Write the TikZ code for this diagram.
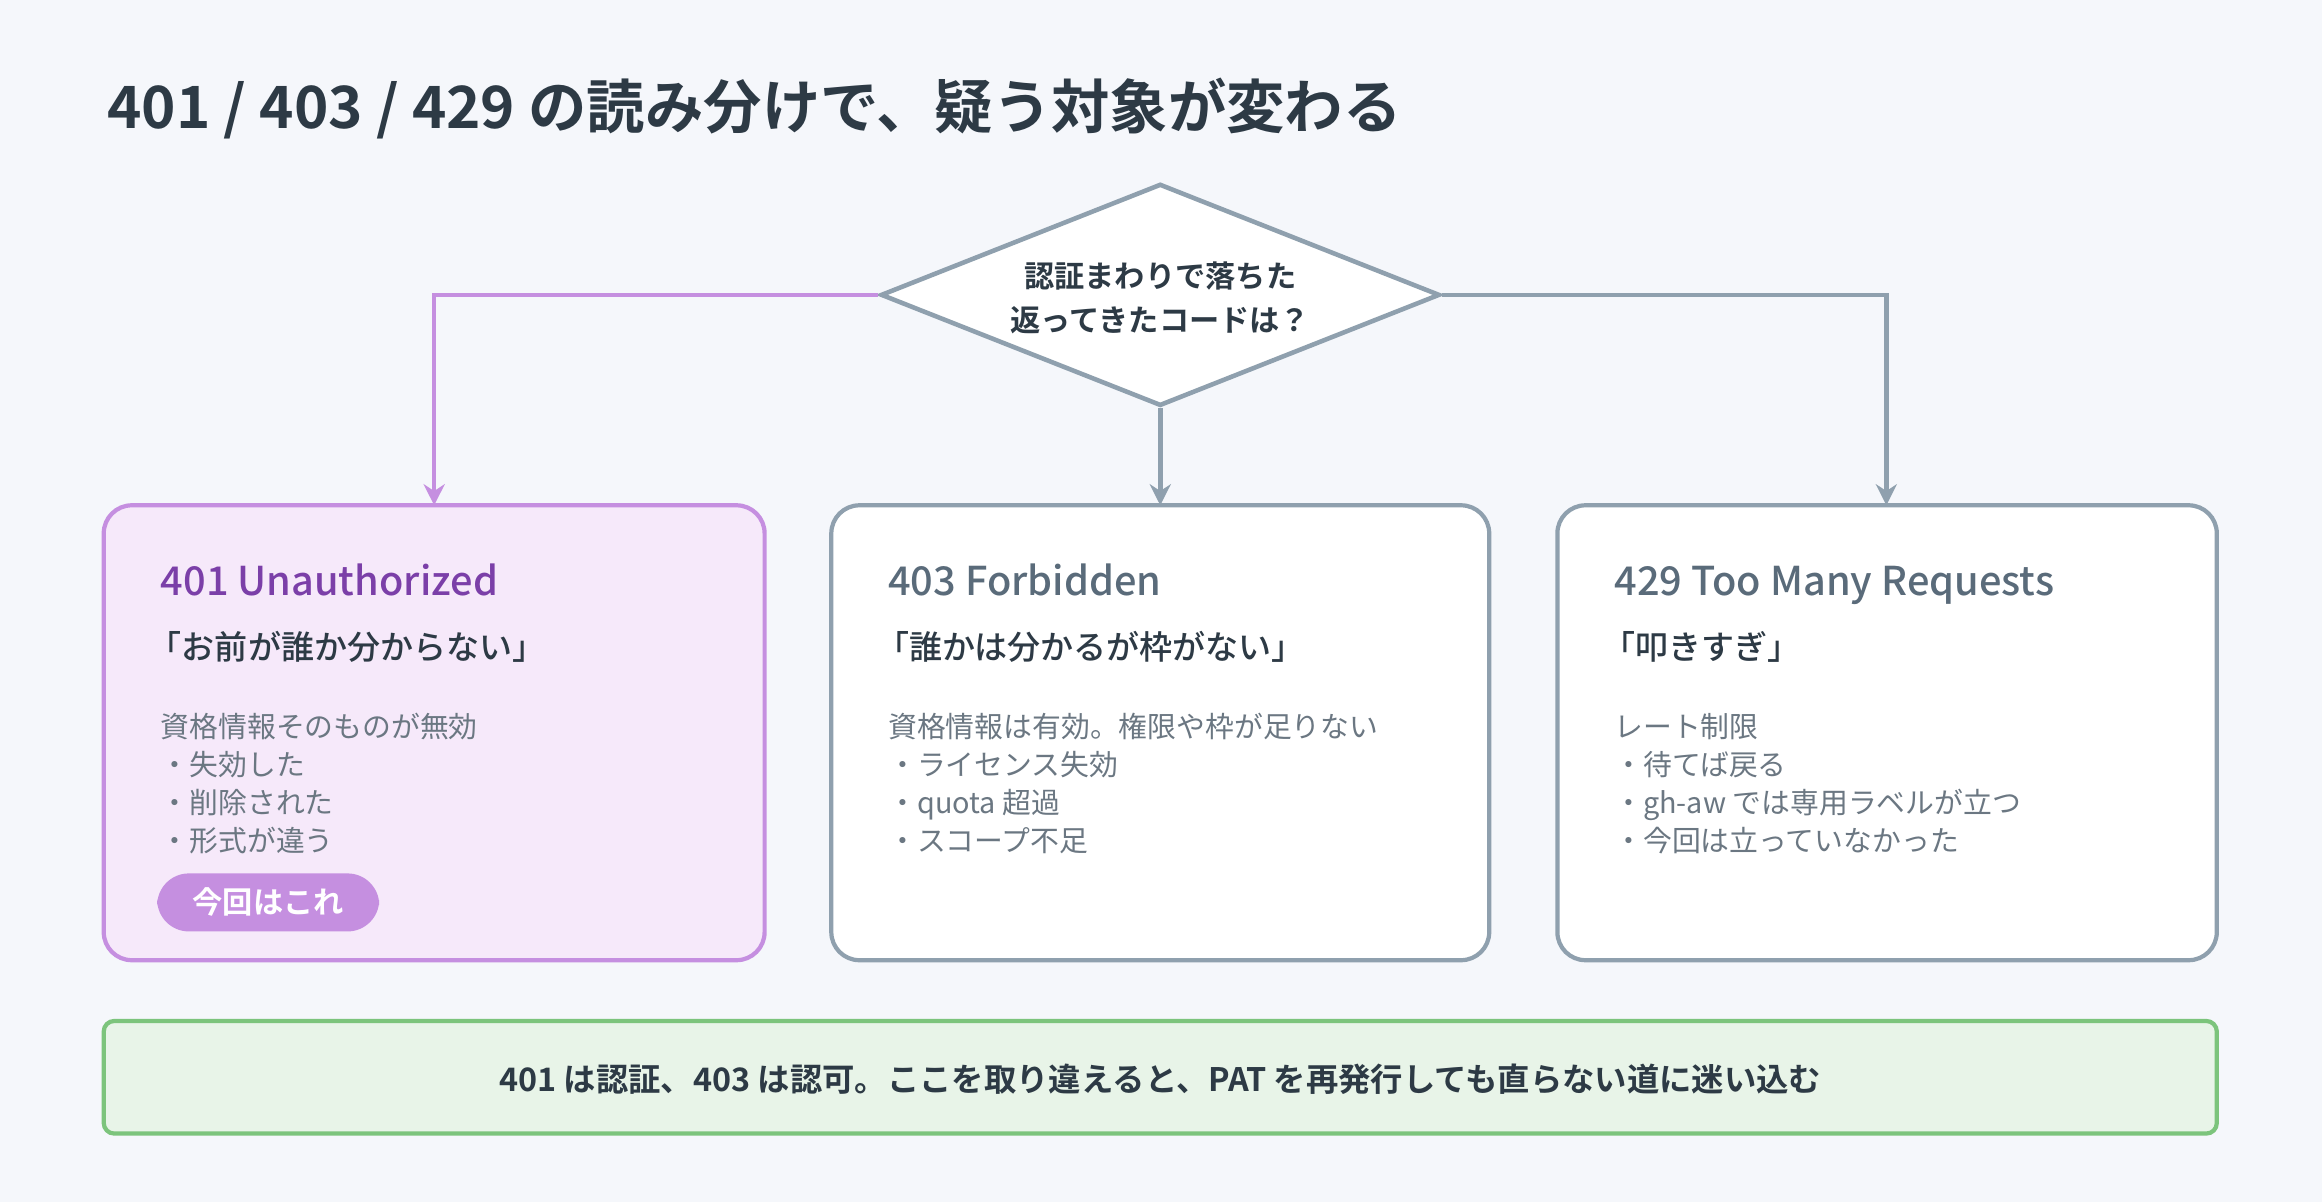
\documentclass[tikz,border=0pt]{standalone}
\usepackage{fontspec}
\setmainfont{Noto Sans CJK JP}
\newfontfamily\jpbold{Noto Sans CJK JP Bold}
\newfontfamily\jpmed{Noto Sans CJK JP Medium}
\usetikzlibrary{shapes.geometric,arrows.meta}
\definecolor{bgcol}{HTML}{F5F7FB}
\definecolor{inkcol}{HTML}{2D3A45}
\definecolor{greycol}{HTML}{8FA0AE}
\definecolor{purpcol}{HTML}{C58FE0}
\definecolor{purpfill}{HTML}{F6E9FA}
\definecolor{purpink}{HTML}{7B3FA8}
\definecolor{slatecol}{HTML}{5A6B7A}
\definecolor{bodycol}{HTML}{6B7782}
\definecolor{greenfill}{HTML}{E8F4E8}
\definecolor{greencol}{HTML}{7CC47C}
\tikzset{
  card/.style = {draw = greycol, fill = white, line width = 1.2pt, rounded corners = 8pt},
  hit/.style = {card, draw = purpcol, fill = purpfill},
  link/.style = {draw = greycol, line width = 1.3pt, -{Stealth[length=6pt,width=6pt]}},
  cardtitle/.style = {anchor = base west, inner xsep = 0pt, text = slatecol, font = \jpmed\fontsize{11.3}{14}\selectfont},
  cardsub/.style = {anchor = base west, inner xsep = 0pt, text = inkcol, font = \jpmed\fontsize{9.4}{12}\selectfont},
  cardbody/.style = {anchor = north west, inner xsep = 0pt, text = bodycol, align = left, font = \fontsize{8.2}{10.8}\selectfont}
}
\begin{document}
\begin{tikzpicture}[x = 0.014818cm, y = -0.014818cm]
	\fill[bgcol] (0,0) rectangle (1567,811);
	\node[anchor = west, inner xsep = 0pt, text = inkcol, font = \jpbold\fontsize{16.6}{20}\selectfont] (title) at (72,73) {401 / 403 / 429 の読み分けで、疑う対象が変わる};

	% question
	\node[diamond, draw = greycol, fill = white, line width = 1.3pt, inner sep = 0pt,
		minimum width = 5.59cm, minimum height = 2.22cm, aspect = 2.5] (ask) at (783,199) {};
	\node[align = center, text = inkcol, font = \jpbold\fontsize{8.6}{12.5}\selectfont] (asktext) at (783,201) {認証まわりで落ちた\\返ってきたコードは？};

	% cards
	\path[hit] (70,341) rectangle (516,648);
	\path[card] (561,341) rectangle (1005,648);
	\path[card] (1051,341) rectangle (1496,648);
	\coordinate (c401) at (293,341);
	\coordinate (c403) at (783,341);
	\coordinate (c429) at (1273,341);

	\draw[link, draw = purpcol] (ask.west) -| (c401);
	\draw[link] (ask.south) -- (c403);
	\draw[link] (ask.east) -| (c429);

	% 401
	\node[cardtitle, text = purpink] (t401) at (108,402) {401 Unauthorized};
	\node[cardsub] (s401) at (100,445) {「お前が誰か分からない」};
	\node[cardbody] (b401) at (108,473) {資格情報そのものが無効\\・失効した\\・削除された\\・形式が違う};
	\node[fill = purpcol, text = white, rounded corners = 9pt, minimum width = 2.22cm, minimum height = 0.58cm,
		font = \jpbold\fontsize{8.6}{10}\selectfont] (now) at (181,609) {今回はこれ};

	% 403
	\node[cardtitle] (t403) at (599,402) {403 Forbidden};
	\node[cardsub] (s403) at (591,445) {「誰かは分かるが枠がない」};
	\node[cardbody] (b403) at (599,473) {資格情報は有効。権限や枠が足りない\\・ライセンス失効\\・quota 超過\\・スコープ不足};

	% 429
	\node[cardtitle] (t429) at (1089,402) {429 Too Many Requests};
	\node[cardsub] (s429) at (1081,445) {「叩きすぎ」};
	\node[cardbody] (b429) at (1089,473) {レート制限\\・待てば戻る\\・gh-aw では専用ラベルが立つ\\・今回は立っていなかった};

	% note
	\path[draw = greencol, fill = greenfill, line width = 1.2pt, rounded corners = 3pt] (70,689) rectangle (1496,765);
	\node[text = inkcol, font = \jpbold\fontsize{9.2}{11}\selectfont] (note) at (783,728) {401 は認証、403 は認可。ここを取り違えると、PAT を再発行しても直らない道に迷い込む};
\end{tikzpicture}
\end{document}
